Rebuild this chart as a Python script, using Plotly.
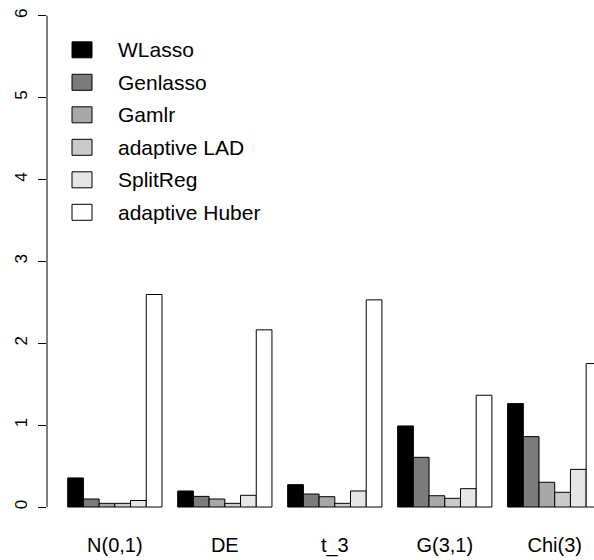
import plotly.graph_objects as go

# ---- data ----
categories = ["N(0,1)", "DE", "t_3", "G(3,1)", "Chi(3)"]
series_names = ["WLasso", "Genlasso", "Gamlr", "adaptive LAD", "SplitReg", "adaptive Huber"]
wlasso = [0.355, 0.196, 0.273, 0.99, 1.263]
genlasso = [0.098, 0.13, 0.159, 0.607, 0.86]
gamlr = [0.045, 0.098, 0.126, 0.138, 0.302]
adaptive_lad = [0.045, 0.045, 0.045, 0.106, 0.18]
splitreg = [0.08, 0.143, 0.196, 0.224, 0.46]
adaptive_huber = [2.595, 2.164, 2.53, 1.365, 1.752]
series_values = [wlasso, genlasso, gamlr, adaptive_lad, splitreg, adaptive_huber]
y_tick_values = [0, 1, 2, 3, 4, 5, 6]

colors = ["#000000", "#7B7B7B", "#A8A8A8", "#CACACA", "#E6E6E6", "#FFFFFF"]

FONT = "Liberation Sans, Arial, Helvetica, sans-serif"
W, H = 594, 560
ML, MB = 47, 33
PW, PH = W - ML, H - MB

fig = go.Figure()
for name, vals, col in zip(series_names, series_values, colors):
    fig.add_trace(go.Bar(
        x=categories, y=vals, name=name,
        marker=dict(color=col, line=dict(color="#000000", width=1)),
        showlegend=False,
    ))

# y-axis line only from 0 to 6 (R style)
fig.add_shape(type="line", xref="paper", yref="y", x0=0, x1=0, y0=0, y1=6,
              line=dict(color="#000000", width=1))

# manual R-style legend
def px_x(px):
    return (px - ML) / PW

def px_y(py):
    return 1 - py / PH

row0, step = 49.8, 32.5
for i, (name, col) in enumerate(zip(series_names, colors)):
    cy = row0 + i * step
    fig.add_shape(type="rect", xref="paper", yref="paper",
                  x0=px_x(72), x1=px_x(92), y0=px_y(cy + 8), y1=px_y(cy - 8),
                  fillcolor=col, line=dict(color="#000000", width=1))
    fig.add_annotation(xref="paper", yref="paper", x=px_x(116), y=px_y(cy),
                       text=name, showarrow=False, xanchor="left", yanchor="middle",
                       font=dict(family=FONT, size=21, color="#000000"))

fig.update_layout(
    width=W, height=H,
    margin=dict(l=ML, r=0, t=0, b=MB, pad=0),
    paper_bgcolor="white", plot_bgcolor="white",
    barmode="group", bargap=1/7, bargroupgap=0,
    font=dict(family=FONT, color="#000000"),
    xaxis=dict(type="category", range=[-0.617, 4.357], showline=False, showgrid=False,
               zeroline=False, ticks="", tickfont=dict(size=20), ticklabelstandoff=4),
    yaxis=dict(range=[-0.244, 6.192], tickvals=y_tick_values, showline=False, showgrid=False,
               zeroline=False, ticks="outside", ticklen=8, tickwidth=1, tickcolor="#000000",
               tickangle=-90, tickfont=dict(size=17), ticklabelstandoff=4),
)

fig.write_html("out.html")
